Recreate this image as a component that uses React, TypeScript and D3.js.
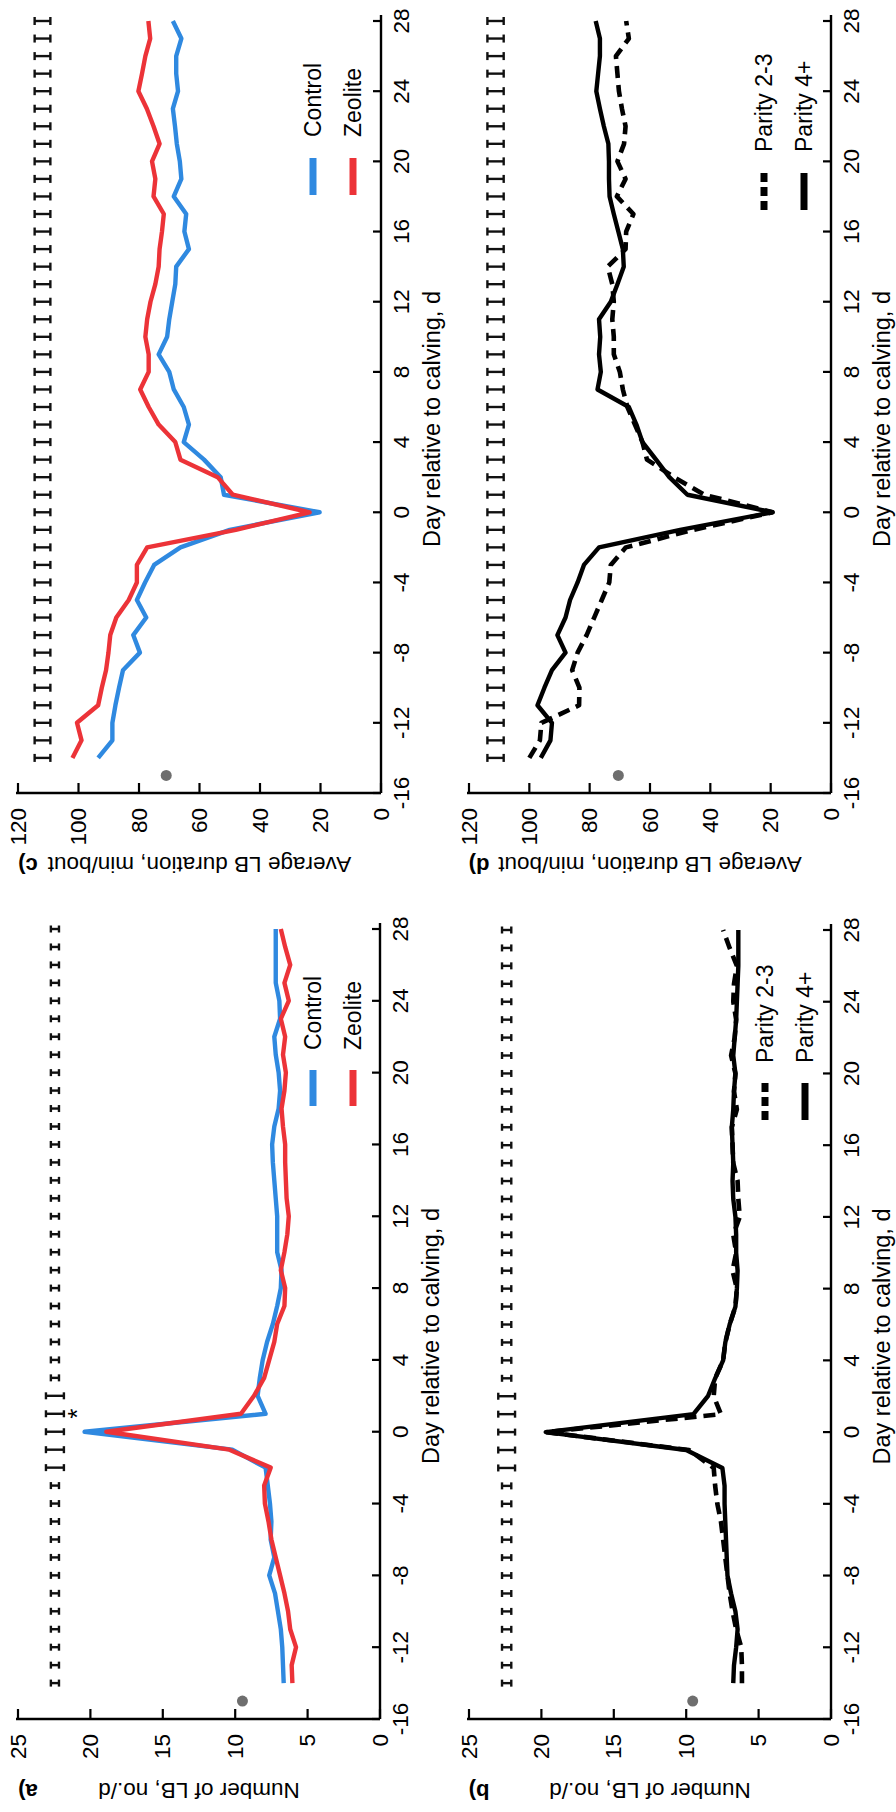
import React from "react";
import * as d3 from "d3";

// ---------- data ----------
const DAYS = [-14,-13,-12,-11,-10,-9,-8,-7,-6,-5,-4,-3,-2,-1,0,1,2,3,4,5,6,7,8,9,10,11,12,13,14,15,16,17,18,19,20,21,22,23,24,25,26,27,28];
const DAY_TICKS = [-16,-12,-8,-4,0,4,8,12,16,20,24,28];
const LB_TICKS = [0,5,10,15,20,25];
const DUR_TICKS = [0,20,40,60,80,100,120];

// Number of lying bouts, treatment
const lbControl = [6.65,6.7,6.75,6.85,7.05,7.25,7.65,7.3,7.55,7.5,7.6,7.75,7.9,10.2,20.4,7.9,8.45,8.3,8.1,7.8,7.4,7.1,6.85,6.8,7.1,7.1,7.1,7.2,7.3,7.4,7.45,7.3,7.0,6.9,7.0,7.2,7.3,6.9,6.95,7.2,7.2,7.2,7.2];
const lbZeolite = [6.05,6.1,5.8,6.2,6.35,6.6,6.9,7.2,7.5,7.7,7.95,8.0,7.55,10.4,18.9,9.6,8.7,8.0,7.65,7.3,7.1,6.6,6.55,6.85,6.6,6.4,6.3,6.45,6.5,6.55,6.55,6.7,6.8,6.6,6.5,6.7,6.55,6.85,6.3,6.6,6.2,6.55,6.85];
// Number of lying bouts, parity
const lbParity23 = [6.15,6.15,6.2,6.55,6.8,7.0,7.15,7.3,7.45,7.6,7.85,8.0,8.1,9.8,19.7,7.6,8.1,8.0,7.45,7.3,7.0,6.6,6.5,6.8,6.55,6.75,6.3,6.4,6.45,6.75,6.8,6.85,6.5,6.7,6.6,6.9,6.65,6.55,6.75,6.7,6.5,7.0,7.45];
const lbParity4 = [6.75,6.7,6.55,6.45,6.6,6.9,7.15,7.2,7.25,7.3,7.35,7.35,7.5,10.0,19.7,9.5,8.5,8.0,7.45,7.3,7.0,6.6,6.5,6.45,6.55,6.55,6.6,6.75,6.8,6.75,6.8,6.85,6.75,6.7,6.6,6.75,6.65,6.55,6.5,6.45,6.4,6.4,6.4];
// Average lying bout duration, treatment
const durControl = [93.5,88.8,88.8,87.8,86.6,85.3,79.7,81.9,77.6,80.7,78,75,66.3,50,20.3,51.9,53,58.5,65.2,63.5,65.2,68.5,70,73.5,70.7,70,69,68,67.7,63.5,65,64.4,68.5,66,66.5,67.5,68.1,68.8,67.1,67.7,67.7,66,68.8];
const durZeolite = [102,99,100.5,93.5,92.3,90.9,90.1,89.5,87.5,83.4,80.7,80.7,77.3,48,23.6,49,54,66.3,68,73.5,76.8,79.6,76.8,76.8,77.9,77.3,76.2,74.6,73.5,73.2,72.4,71.8,75.2,74.6,75.7,73.2,75.2,77.4,80.2,79,77.9,76.3,76.9];
// Average lying bout duration, parity
const durParity23 = [100,96.5,96,83.5,83.4,85.8,84,81,78.5,76,73.5,73,68,45.6,19.4,42,52,61,62.5,65,67.5,69,70,72,72,72.5,72,72.5,74,68.1,67.9,65.5,71,68.1,70.8,68.6,68.1,69.3,70.3,70.8,71.3,67,67.9];
const durParity4 = [96.2,93,92.5,97.3,95,92.5,88,90.7,88,86.5,84,81.9,76.9,50,19.4,47.6,53.6,58,62.5,64.5,67,77.4,76.3,76.9,76.5,76.9,73,70.8,68.7,69,70.5,72,73.4,73.6,73.6,73.8,75.3,76.6,77.8,77.2,76.6,76.6,78];

// Error bars (SEM) shown along the top of each panel
const lbTrtSE = [0.28,0.28,0.28,0.28,0.28,0.28,0.28,0.28,0.28,0.28,0.28,0.28,0.62,0.62,0.62,0.62,0.62,0.28,0.28,0.28,0.28,0.28,0.28,0.28,0.28,0.28,0.28,0.28,0.28,0.28,0.28,0.28,0.28,0.28,0.28,0.28,0.28,0.28,0.28,0.28,0.28,0.28,0.28];
const lbParSE = [0.32,0.32,0.32,0.32,0.32,0.32,0.32,0.32,0.32,0.32,0.32,0.32,0.58,0.58,0.58,0.58,0.58,0.32,0.32,0.32,0.32,0.32,0.32,0.32,0.32,0.32,0.32,0.32,0.32,0.32,0.32,0.32,0.32,0.32,0.32,0.32,0.32,0.32,0.32,0.32,0.32,0.32,0.32];
const durTrtSE = [2.6,2.6,2.6,2.6,2.6,2.6,2.6,2.6,2.6,2.6,2.6,2.6,2.6,2.6,2.6,2.6,2.6,2.6,2.6,2.6,2.6,2.6,2.6,2.6,2.6,2.6,2.6,2.6,2.6,2.6,2.6,2.6,2.6,2.6,2.6,2.6,2.6,2.6,2.6,2.6,2.6,2.6,2.6];
const durParSE = [2.7,2.7,2.7,2.7,2.7,2.7,2.7,2.7,2.7,2.7,2.7,2.7,2.7,2.7,2.7,2.7,2.7,2.7,2.7,2.7,2.7,2.7,2.7,2.7,2.7,2.7,2.7,2.7,2.7,2.7,2.7,2.7,2.7,2.7,2.7,2.7,2.7,2.7,2.7,2.7,2.7,2.7,2.7];

const BLUE = "#2f89e0";
const RED = "#ec3338";
const FONT = "'Liberation Sans', Arial, sans-serif";

type Series = { name: string; values: number[]; color: string; dashed: boolean };
type Panel = {
  label: string; yTitle: string; yTicks: number[]; yMax: number;
  series: Series[]; se: number[]; seCenter: number; capW: number;
  x0: number; x1: number; yB: number; yT: number;
  legX0: number; legX1: number; legTextX: number; legRows: number[];
  dot: [number, number]; star?: [number, number];
};

const panels: Panel[] = [
  { label: "a)", yTitle: "Number of LB, no./d", yTicks: LB_TICKS, yMax: 25,
    series: [
      { name: "Control", values: lbControl, color: BLUE, dashed: false },
      { name: "Zeolite", values: lbZeolite, color: RED, dashed: false },
    ], se: lbTrtSE, seCenter: 22.45, capW: 7,
    x0: 93, x1: 883, yB: 380, yT: 18,
    legX0: 706, legX1: 742, legTextX: 762, legRows: [313, 353],
    dot: [-15, 9.5], star: [1, 20.9] },
  { label: "b)", yTitle: "Number of LB, no./d", yTicks: LB_TICKS, yMax: 25,
    series: [
      { name: "Parity 2-3", values: lbParity23, color: "#000", dashed: true },
      { name: "Parity 4+", values: lbParity4, color: "#000", dashed: false },
    ], se: lbParSE, seCenter: 22.4, capW: 7,
    x0: 93, x1: 882, yB: 831, yT: 469,
    legX0: 692, legX1: 729, legTextX: 749, legRows: [765, 805],
    dot: [-15, 9.55] },
  { label: "c)", yTitle: "Average LB duration, min/bout", yTicks: DUR_TICKS, yMax: 120,
    series: [
      { name: "Control", values: durControl, color: BLUE, dashed: false },
      { name: "Zeolite", values: durZeolite, color: RED, dashed: false },
    ], se: durTrtSE, seCenter: 111.9, capW: 8,
    x0: 1019, x1: 1791, yB: 381, yT: 18,
    legX0: 1617, legX1: 1654, legTextX: 1675, legRows: [313, 353],
    dot: [-15, 71] },
  { label: "d)", yTitle: "Average LB duration, min/bout", yTicks: DUR_TICKS, yMax: 120,
    series: [
      { name: "Parity 2-3", values: durParity23, color: "#000", dashed: true },
      { name: "Parity 4+", values: durParity4, color: "#000", dashed: false },
    ], se: durParSE, seCenter: 111.2, capW: 8,
    x0: 1019, x1: 1791, yB: 831, yT: 469,
    legX0: 1602, legX1: 1639, legTextX: 1660, legRows: [764, 804],
    dot: [-15, 70.5] },
];

function PanelView({ p }: { p: Panel }) {
  const x = d3.scaleLinear().domain([-16, 28]).range([p.x0, p.x1]);
  const y = d3.scaleLinear().domain([0, p.yMax]).range([p.yB, p.yT]);
  const line = d3.line<number>().x((_, i) => x(DAYS[i])).y((v) => y(v));
  const yMid = (p.yB + p.yT) / 2;
  const titleX = (p.x0 + p.x1) / 2 - 12;
  return (
    <g>
      {/* axes */}
      <line x1={p.x0} x2={p.x1 + 6} y1={p.yB} y2={p.yB} stroke="#000" strokeWidth={2.4} />
      <line x1={p.x0} x2={p.x0} y1={p.yB} y2={p.yT - 2} stroke="#000" strokeWidth={2.4} />
      {DAY_TICKS.map((t) => (
        <g key={"dt" + t}>
          <line x1={x(t)} x2={x(t)} y1={p.yB} y2={p.yB - 8} stroke="#000" strokeWidth={2.2} />
          <text x={x(t)} y={p.yB + 20} textAnchor="middle" dominantBaseline="central"
            fontSize={22.5} fontFamily={FONT}>{t}</text>
        </g>
      ))}
      {p.yTicks.map((t) => (
        <g key={"vt" + t}>
          <line x1={p.x0} x2={p.x0 + 10} y1={y(t)} y2={y(t)} stroke="#000" strokeWidth={2.2} />
          <text x={p.x0 - 15} y={y(t)} textAnchor="end" dominantBaseline="central"
            fontSize={22.5} fontFamily={FONT}>{t}</text>
        </g>
      ))}
      {/* titles */}
      <text x={titleX} y={p.yB + 51} textAnchor="middle" dominantBaseline="central"
        fontSize={23.5} fontFamily={FONT}>Day relative to calving, d</text>
      <text transform={`translate(${p.x0 - 71},${yMid}) rotate(-90)`} textAnchor="middle"
        dominantBaseline="central" fontSize={22.5} fontFamily={FONT}>{p.yTitle}</text>
      <text transform={`translate(${p.x0 - 72},${p.yT + 10}) rotate(-90)`} textAnchor="middle"
        dominantBaseline="central" fontSize={22} fontWeight="bold" fontFamily={FONT}>{p.label}</text>
      {/* error bars */}
      {DAYS.map((d, i) => {
        const cx = x(d);
        const a = y(p.seCenter - p.se[i]);
        const b = y(p.seCenter + p.se[i]);
        return (
          <g key={"se" + d} stroke="#111" strokeWidth={2.4}>
            <line x1={cx} x2={cx} y1={a} y2={b} />
            <line x1={cx - p.capW / 2} x2={cx + p.capW / 2} y1={a} y2={a} />
            <line x1={cx - p.capW / 2} x2={cx + p.capW / 2} y1={b} y2={b} />
          </g>
        );
      })}
      {/* series */}
      {p.series.map((s) => (
        <path key={s.name} d={line(s.values) || ""} fill="none" stroke={s.color}
          strokeWidth={s.dashed ? 4.6 : 4.4} strokeLinejoin="round"
          strokeDasharray={s.dashed ? "12 7" : undefined} />
      ))}
      {/* gray marker */}
      <circle cx={x(p.dot[0])} cy={y(p.dot[1])} r={5.5} fill="#6e6e6e" />
      {p.star && (
        <text x={x(p.star[0])} y={y(p.star[1])} textAnchor="middle" dominantBaseline="central"
          fontSize={26} fontFamily={FONT}>*</text>
      )}
      {/* legend */}
      {p.series.map((s, i) => (
        <g key={"lg" + s.name}>
          <line x1={p.legX0} x2={p.legX1} y1={p.legRows[i]} y2={p.legRows[i]} stroke={s.color}
            strokeWidth={7} strokeDasharray={s.dashed ? "9 5" : undefined} />
          <text x={p.legTextX} y={p.legRows[i]} dominantBaseline="central" fontSize={23}
            fontFamily={FONT}>{s.name}</text>
        </g>
      ))}
    </g>
  );
}

export default function App() {
  return (
    <svg width={896} height={1812} style={{ position: "absolute", left: 0, top: 0, background: "#fff" }}>
      <rect x={0} y={0} width={896} height={1812} fill="#fff" />
      <g transform="translate(0,1812) rotate(-90)">
        {panels.map((p) => <PanelView key={p.label} p={p} />)}
      </g>
    </svg>
  );
}
